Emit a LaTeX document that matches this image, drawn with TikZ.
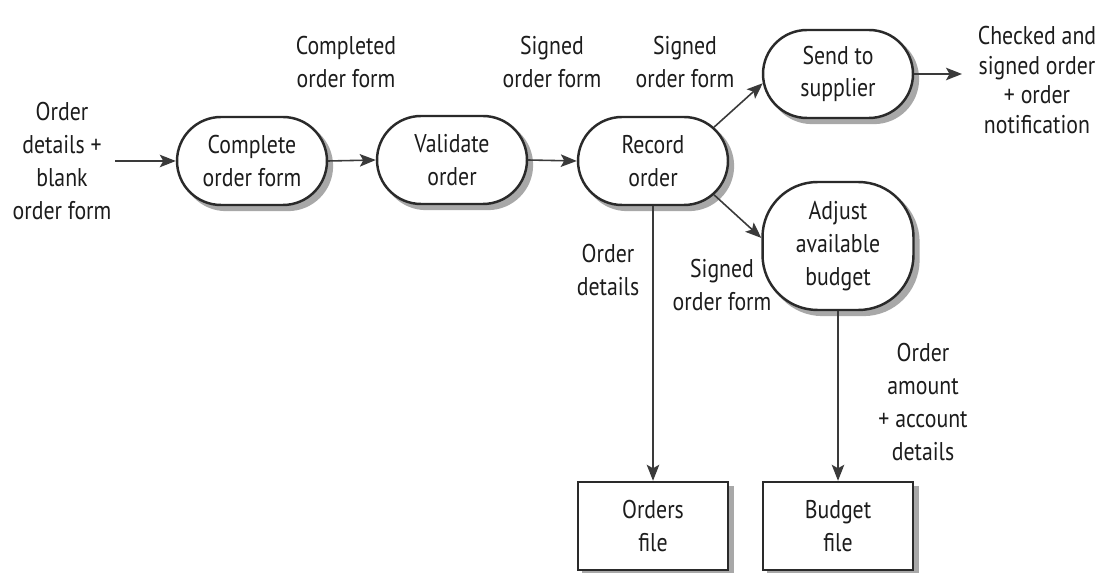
\documentclass[tikz,border=0pt]{standalone}
\usepackage{fontspec}
\setmainfont{PT Sans}[FakeStretch=0.85]
\usetikzlibrary{arrows.meta,shapes.misc}
\definecolor{txt}{HTML}{1C1C1C}
\definecolor{bord}{HTML}{2A2A2A}
\definecolor{linec}{HTML}{3A3A3A}
\definecolor{shadc}{HTML}{A8A8A8}
\begin{document}
\begin{tikzpicture}[x=0.02cm,y=-0.02cm,
  lbl/.style={font=\fontsize{14.6pt}{18.7pt}\selectfont, text=txt, align=center, inner sep=0pt},
  shad/.style={preaction={fill=shadc, draw=shadc, line width=1.3pt, transform canvas={xshift=0.1cm, yshift=-0.1cm}}},
  proc/.style={lbl, rounded rectangle, draw=bord, line width=1.4pt, fill=white,
    minimum width=3cm, minimum height=1.76cm, shad},
  roundproc/.style={lbl, rectangle, rounded corners=1.1cm, draw=bord, line width=1.4pt, fill=white,
    minimum width=3.02cm, minimum height=2.56cm, shad},
  filebox/.style={lbl, rectangle, draw=bord, line width=1.4pt, fill=white,
    minimum width=3cm, minimum height=1.76cm, shad},
  arr/.style={draw=linec, line width=0.9pt, -{Stealth[length=0.32cm, width=0.25cm, inset=0.07cm]}}
]
\useasboundingbox (0,0) rectangle (1101,573);
\fill[white] (0,0) rectangle (1101,573);

% process nodes
\node[proc] (cof) at (252,161) {Complete\\order form};
\node[proc] (val) at (452,160) {Validate\\order};
\node[proc] (rec) at (653,161) {Record\\order};
\node[proc] (sup) at (838,74) {Send to\\supplier};
\node[roundproc] (adj) at (838,246) {Adjust\\available\\budget};
\node[filebox] (ord) at (653,526) {Orders\\file};
\node[filebox] (bud) at (838,526) {Budget\\file};

% free ends
\coordinate (in) at (115,161);
\coordinate (out) at (962,74);

% labels
\node[lbl] (linput) at (62,161) {Order\\details +\\blank\\order form};
\node[lbl] (lcomp) at (346,62) {Completed\\order form};
\node[lbl] (lsig1) at (552,62) {Signed\\order form};
\node[lbl] (lsig2) at (685,62) {Signed\\order form};
\node[lbl, font=\fontsize{14.6pt}{17pt}\selectfont] (lout) at (1037,80) {Checked and\\signed order\\+ order\\notification};
\node[lbl] (ldet) at (608,270) {Order\\details};
\node[lbl] (lsig3) at (722,285) {Signed\\order form};
\node[lbl] (lamt) at (923,402) {Order\\amount\\+ account\\details};

% connectors
\draw[arr] (in) -- (cof.west);
\draw[arr] (cof.east) -- (val.west);
\draw[arr] (val.east) -- (rec.west);
\draw[arr] (rec.29) -- (sup.187);
\draw[arr] (rec.-29) -- (adj.174);
\draw[arr] (sup.east) -- (out);
\draw[arr] (rec.south) -- (ord.north);
\draw[arr] (adj.south) -- (bud.north);
\end{tikzpicture}
\end{document}
